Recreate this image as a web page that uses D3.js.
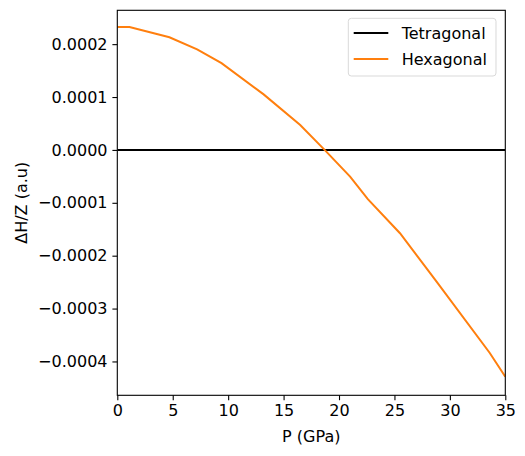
<!doctype html>
<html lang="en">
<head>
    <meta charset="utf-8">
    <title>Enthalpy difference</title>
    <script src="https://cdnjs.cloudflare.com/ajax/libs/d3/7.8.5/d3.min.js"></script>
    <style>
        body { margin: 0; background: #fff; }
        svg text { font-family: "DejaVu Sans", sans-serif; font-size: 16px; fill: #000; }
    </style>
</head>
<body>
    <div id="chart"></div>
    <script>
        // pressure (GPa) and enthalpy difference per formula unit (a.u)
        var pressure = [0, 1.1, 4.7, 7.2, 9.4, 13.2, 16.5, 18.7, 21.0, 22.6, 25.5, 28.8, 33.6, 35.0];
        var hexagonal = [2.325e-4, 2.325e-4, 2.13e-4, 1.90e-4, 1.64e-4, 1.05e-4, 0.47e-4, 0, -0.505e-4,
                         -0.93e-4, -1.575e-4, -2.49e-4, -3.84e-4, -4.29e-4];
        var tetragonal = pressure.map(function() { return 0; });
        var xTicks = [0, 5, 10, 15, 20, 25, 30, 35];
        var yTicks = [-0.0004, -0.0003, -0.0002, -0.0001, 0, 0.0001, 0.0002];
        var series = [
            { name: "Tetragonal", values: tetragonal, color: "#000000" },
            { name: "Hexagonal", values: hexagonal, color: "#ff7f0e" }
        ];

        var width = 525, height = 456;
        var margin = { top: 10.3, right: 19.7, bottom: 60.7, left: 117.3 };
        var w = width - margin.left - margin.right;
        var h = height - margin.top - margin.bottom;

        var x = d3.scaleLinear().domain([0, 35]).range([0, w]);
        var y = d3.scaleLinear().domain([-0.000464, 0.000264]).range([h, 0]);

        var svg = d3.select("#chart").append("svg")
            .attr("width", width)
            .attr("height", height);

        var g = svg.append("g")
            .attr("transform", "translate(" + margin.left + "," + margin.top + ")");

        g.append("defs").append("clipPath").attr("id", "clip")
            .append("rect").attr("width", w).attr("height", h);

        var line = d3.line()
            .x(function(d, i) { return x(pressure[i]); })
            .y(function(d) { return y(d); });

        g.append("g").attr("clip-path", "url(#clip)")
            .selectAll("path")
            .data(series)
            .enter()
            .append("path")
            .attr("fill", "none")
            .attr("stroke", function(d) { return d.color; })
            .attr("stroke-width", 2)
            .attr("d", function(d) { return line(d.values); });

        // axes
        var xAxis = g.append("g")
            .attr("transform", "translate(0," + h + ")")
            .call(d3.axisBottom(x).tickValues(xTicks).tickSize(4.9).tickPadding(4.9).tickFormat(d3.format("d")));

        var yAxis = g.append("g")
            .call(d3.axisLeft(y).tickValues(yTicks).tickSize(4.9).tickPadding(4.9)
                .tickFormat(function(d) { return d3.format(".4f")(d).replace("-", "\u2212"); }));

        [xAxis, yAxis].forEach(function(a) {
            a.select(".domain").remove();
            a.selectAll("line").attr("stroke", "#000").attr("stroke-width", 1.1);
            a.selectAll("text").attr("font-family", null).attr("font-size", null);
        });

        g.append("rect")
            .attr("width", w)
            .attr("height", h)
            .attr("fill", "none")
            .attr("stroke", "#000")
            .attr("stroke-width", 1.1);

        // labels
        svg.append("text")
            .attr("x", margin.left + w / 2)
            .attr("y", 441.5)
            .attr("text-anchor", "middle")
            .text("P (GPa)");

        svg.append("text")
            .attr("transform", "translate(27," + (margin.top + h / 2) + ") rotate(-90)")
            .attr("text-anchor", "middle")
            .text("\u0394H/Z (a.u)");

        // legend
        var legend = svg.append("g").attr("transform", "translate(348.3,18.3)");
        legend.append("rect")
            .attr("width", 147.7)
            .attr("height", 57.7)
            .attr("rx", 3)
            .attr("fill", "#fff")
            .attr("fill-opacity", 0.8)
            .attr("stroke", "#d9d9d9")
            .attr("stroke-width", 1);

        var item = legend.selectAll(".item")
            .data(series)
            .enter()
            .append("g")
            .attr("transform", function(d, i) { return "translate(0," + (14.7 + i * 26) + ")"; });

        item.append("line")
            .attr("x1", 5.4).attr("x2", 40)
            .attr("stroke", function(d) { return d.color; })
            .attr("stroke-width", 2);

        item.append("text")
            .attr("x", 53.4)
            .attr("dy", "0.35em")
            .text(function(d) { return d.name; });
    </script>
</body>
</html>
